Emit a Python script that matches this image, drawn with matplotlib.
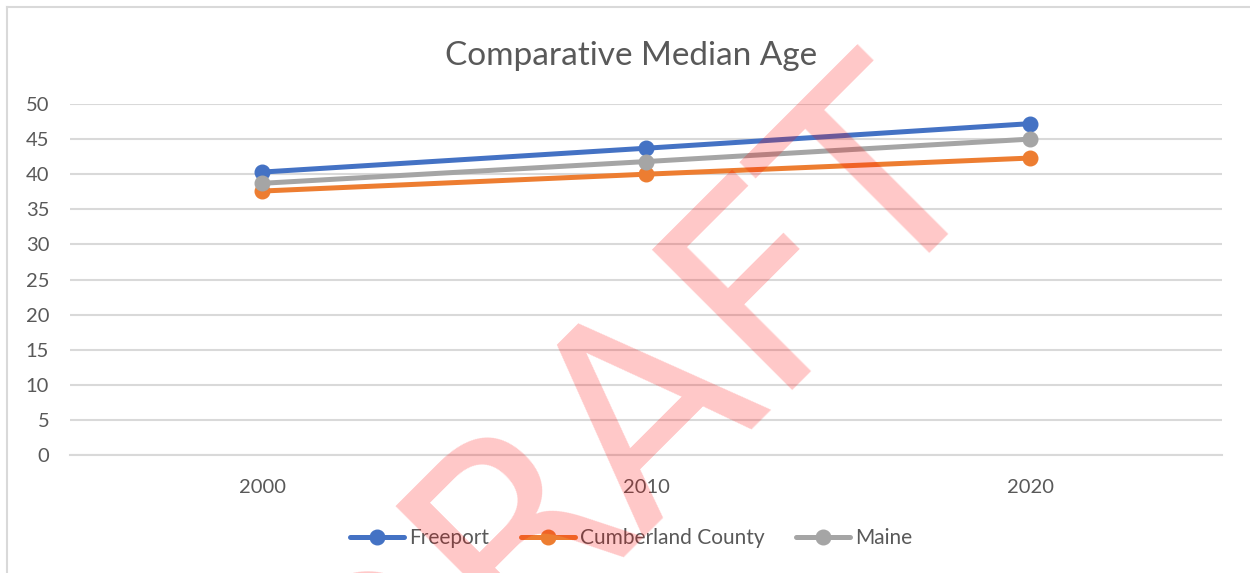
import matplotlib.pyplot as plt
from matplotlib.lines import Line2D

years = ['2000', '2010', '2020']
freeport = [40.3, 43.7, 47.2]
cumberland = [37.6, 40.0, 42.3]
maine = [38.7, 41.8, 45.0]

series = [('Freeport', freeport, '#4472C4'),
          ('Cumberland County', cumberland, '#ED7D31'),
          ('Maine', maine, '#A5A5A5')]

TEXT = '#595959'
GRID = '#D9D9D9'
FONT = 'Lato'

plt.rcParams['font.family'] = [FONT, 'DejaVu Sans']

fig = plt.figure(figsize=(12.5, 5.73), dpi=100)
ax = fig.add_axes([0.056, 0.2059, 0.9216, 0.6126])

x = list(range(len(years)))
for name, vals, color in series:
    ax.plot(x, vals, color=color, linewidth=3.6, marker='o', markersize=10.5,
            label=name, solid_capstyle='round', zorder=3)

ax.set_xlim(-0.5, len(years) - 0.5)
ax.set_ylim(0, 50)
ax.set_yticks(range(0, 51, 5))
ax.set_xticks(x)
ax.set_xticklabels(years)
ax.grid(axis='y', color=GRID, linewidth=1.5)
ax.set_axisbelow(True)
for side in ['top', 'right', 'left']:
    ax.spines[side].set_visible(False)
ax.spines['bottom'].set_color(GRID)
ax.spines['bottom'].set_linewidth(1.5)
ax.tick_params(axis='both', length=0, labelsize=14.5, labelcolor=TEXT)
ax.tick_params(axis='y', pad=15)
ax.tick_params(axis='x', pad=17)

fig.text(0.505, 0.903, 'Comparative Median Age', ha='center', va='center',
         fontsize=24, color=TEXT)

fig.legend(loc='center', bbox_to_anchor=(0.505, 0.061), ncol=3, frameon=False,
           fontsize=15, handlelength=2.6, handletextpad=0.25, columnspacing=1.5,
           labelcolor=TEXT)

# chart frame (only top and left edges are visible in the crop)
fig.add_artist(Line2D([0.0056, 1.0], [0.9878, 0.9878], transform=fig.transFigure,
                      color=GRID, linewidth=1.5))
fig.add_artist(Line2D([0.0056, 0.0056], [0.0, 0.9878], transform=fig.transFigure,
                      color=GRID, linewidth=1.5))

# watermark
fig.text(0.541, 0.164, 'DRAFT', rotation=45, rotation_mode='anchor',
         ha='center', va='baseline', fontsize=195, color='red', alpha=0.22,
         family='DejaVu Sans', zorder=10)

fig.savefig('out.png', dpi=100)
